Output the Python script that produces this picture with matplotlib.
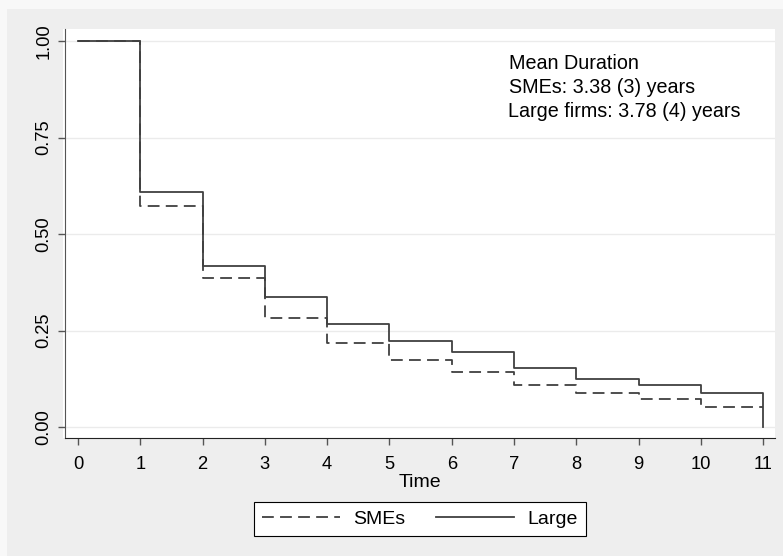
import matplotlib
matplotlib.use("Agg")
import matplotlib.pyplot as plt
import matplotlib.patches as patches

# survival estimates (step function, value holds until next time)
times = [0, 1, 2, 3, 4, 5, 6, 7, 8, 9, 10, 11]
surv_large = [1.0, 0.609, 0.418, 0.336, 0.268, 0.224, 0.195, 0.153, 0.126, 0.110, 0.089, 0.0]
surv_sme = [1.0, 0.572, 0.385, 0.282, 0.219, 0.173, 0.142, 0.108, 0.088, 0.072, 0.052, 0.052]
y_ticks = [0.0, 0.25, 0.5, 0.75, 1.0]
y_labels = ["0.00", "0.25", "0.50", "0.75", "1.00"]
note_lines = ["Mean Duration", "SMEs: 3.38 (3) years", "Large firms: 3.78 (4) years"]

plt.rcParams['font.family'] = ['Liberation Sans', 'DejaVu Sans']
plt.rcParams['lines.scale_dashes'] = False

W, H = 783, 556
fig = plt.figure(figsize=(W / 100, H / 100), dpi=100, facecolor='#eeeeee')

# whitish outer strip on left/top like the Stata export
fig.patches.append(patches.Rectangle((0, 0), 7 / W, 1, transform=fig.transFigure,
                                     facecolor='#f8f8f8', edgecolor='none', zorder=-2))
fig.patches.append(patches.Rectangle((0, 1 - 9 / H), 1, 9 / H, transform=fig.transFigure,
                                     facecolor='#f8f8f8', edgecolor='none', zorder=-2))
# white plot region
fig.patches.append(patches.Rectangle((63 / W, 1 - 438 / H), (775 - 63) / W, (438 - 29) / H,
                                     transform=fig.transFigure, facecolor='white',
                                     edgecolor='none', zorder=-1))

ax = fig.add_axes([65 / W, 1 - 438 / H, (775 - 65) / W, (438 - 29) / H])
ax.set_facecolor('white')

line_col = '#404040'
ax.plot(times, surv_sme, drawstyle='steps-post', color=line_col, lw=1.3,
        dashes=(8.5, 4.5), label='SMEs')
ax.plot(times, surv_large, drawstyle='steps-post', color=line_col, lw=1.3,
        label='Large')

ax.set_xlim(-0.209, 11.19)
ax.set_ylim(-0.028, 1.031)
ax.set_xticks(times)
ax.set_yticks(y_ticks)
ax.set_yticklabels(y_labels, rotation=90, va='center')
ax.yaxis.grid(True, color='#ebebeb', lw=1.0)
ax.set_axisbelow(True)

for s in ['top', 'right']:
    ax.spines[s].set_visible(False)
ax.spines['left'].set_color('#555555')
ax.spines['bottom'].set_color('#222222')
ax.tick_params(axis='both', colors='#555555', labelcolor='black', labelsize=13.2,
               length=5, width=1.0)
ax.tick_params(axis='x', pad=8)
ax.tick_params(axis='y', pad=4)

ax.set_xlabel('Time', fontsize=14, labelpad=1)

# annotation block
note_x = [6.92, 6.92, 6.90]
note_y = [0.927, 0.866, 0.804]
for tx, ty, s in zip(note_x, note_y, note_lines):
    ax.text(tx, ty, s, fontsize=14.2, ha='left', va='baseline')

leg = fig.legend(loc='center', bbox_to_anchor=(420 / W, 1 - 519 / H), ncol=2,
                 fontsize=14, frameon=True, fancybox=False, handlelength=4.0,
                 handletextpad=0.7, columnspacing=1.6, borderpad=0.4)
leg.get_frame().set_edgecolor('black')
leg.get_frame().set_linewidth(0.8)
leg.get_frame().set_facecolor('white')
leg.get_frame().set_alpha(1)

fig.savefig('out.png', dpi=100, facecolor=fig.get_facecolor())
